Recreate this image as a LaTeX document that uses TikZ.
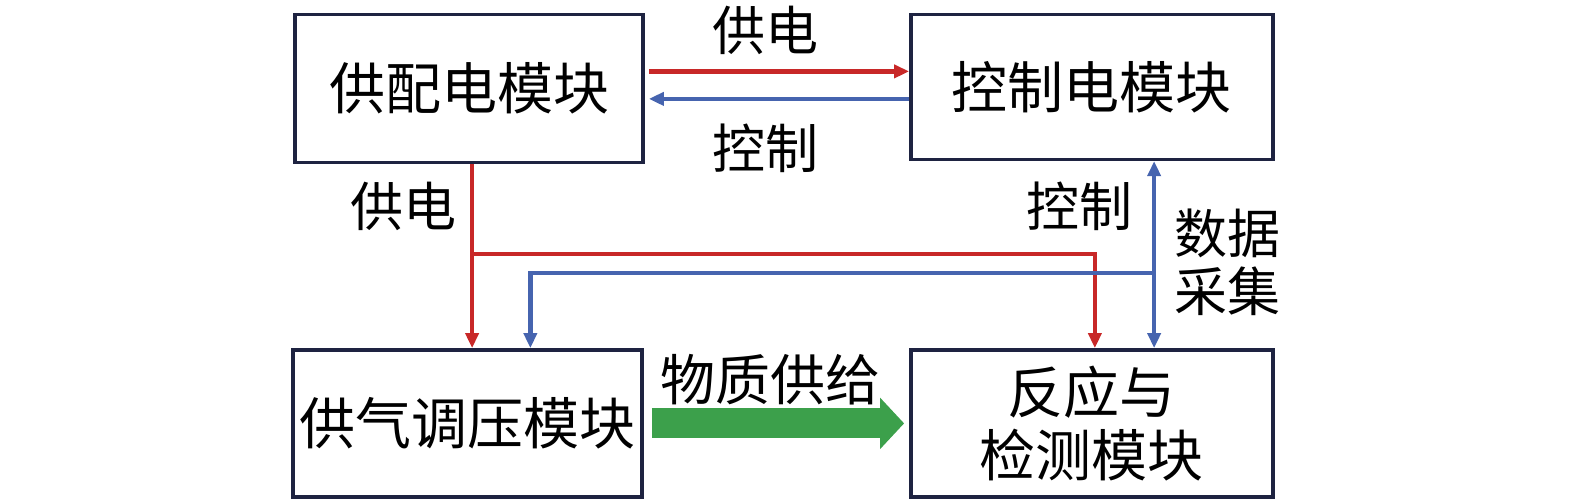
\documentclass[tikz,border=0pt]{standalone}
\usepackage{fontspec}
\setmainfont{Noto Sans CJK SC}
\usetikzlibrary{arrows.meta}
\definecolor{boxc}{RGB}{30,35,65}
\definecolor{redc}{RGB}{200,40,40}
\definecolor{bluec}{RGB}{70,100,175}
\definecolor{greenc}{RGB}{60,160,75}
\begin{document}
\begin{tikzpicture}[x=1.0045pt,y=-1.0045pt,
  modbox/.style={draw=boxc,line width=3.5pt,inner sep=0pt,align=center,font=\fontsize{56}{63}\selectfont},
  lbl/.style={inner sep=0pt,font=\fontsize{53}{58}\selectfont,align=center},
  tip/.style={-{Triangle[length=15pt,width=13pt]}},
  redln/.style={draw=redc,line width=4.5pt},
  blueln/.style={draw=bluec,line width=4.5pt}]
\useasboundingbox (0,0) rectangle (1568,497);
\node[modbox,minimum width=348pt,minimum height=148pt] (pd) at (467,88) {供配电模块};
\node[modbox,minimum width=362pt,minimum height=145pt] (ctl) at (1087,86.5) {控制电模块};
\node[modbox,minimum width=349pt,minimum height=147pt] (gas) at (465.5,421.5) {供气调压模块};
\node[modbox,minimum width=362pt,minimum height=147pt] (rx) at (1087,421.5) {反应与\\检测模块};
% top arrows
\draw[redln,tip] ([yshift=17pt,xshift=4pt]pd.east) -- ([yshift=17pt]pd.east -| ctl.west);
\draw[blueln,tip] ([yshift=-12pt]ctl.west) -- ([yshift=-12pt,xshift=4pt]ctl.west -| pd.east);
\node[lbl] (l1) at (762,30) {供电};
\node[lbl] (l2) at (762,148) {控制};
% red supply lines
\coordinate (j1) at (470,253);
\coordinate (r2) at (1090,253);
\draw[redln,tip] (j1 |- pd.south) -- (j1 |- gas.north);
\draw[redln,tip] (j1) -- (r2) -- (r2 |- rx.north);
% blue control/data lines
\coordinate (b1) at (1149,272);
\coordinate (b2) at (528,272);
\draw[blueln,{Triangle[length=15pt,width=13pt]}-{Triangle[length=15pt,width=13pt]}] (b1 |- ctl.south) -- (b1 |- rx.north);
\draw[blueln,tip] (b1) -- (b2) -- (b2 |- gas.north);
\node[lbl] (l3) at (402,205) {供电};
\node[lbl] (l4) at (1075,205) {控制};
\node[lbl,font=\fontsize{53}{58}\selectfont] (l5) at (1222,261) {数据\\采集};
% green material arrow
\draw[greenc,line width=30pt,-{Triangle[length=24pt,width=50pt]}] ([xshift=8pt]gas.east) -- ([xshift=-5pt]rx.west);
\node[lbl,font=\fontsize{55}{60}\selectfont] (l6) at (767,378) {物质供给};
\end{tikzpicture}
\end{document}
